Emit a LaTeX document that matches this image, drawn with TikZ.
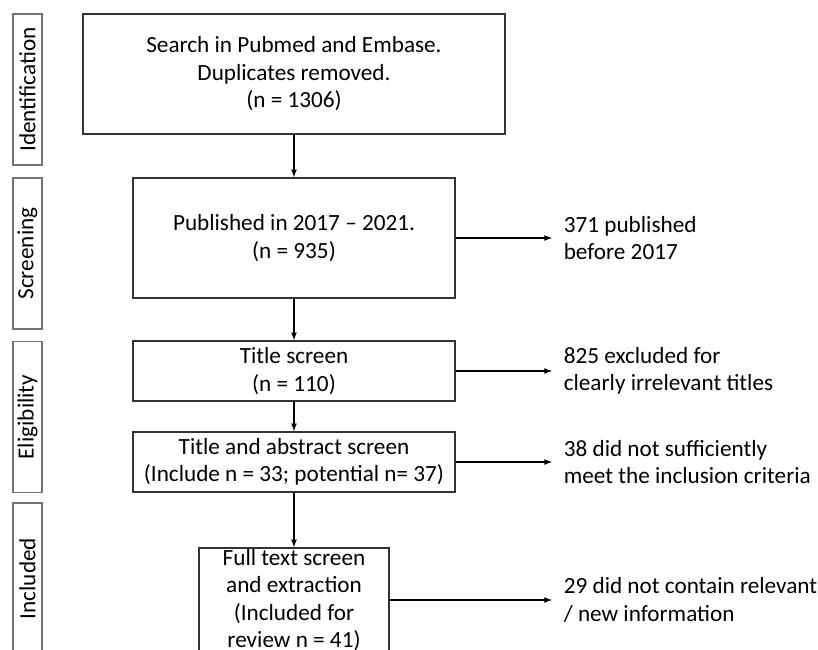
\documentclass[tikz,border=0pt]{standalone}
\usepackage{fontspec}
\setmainfont{Carlito}
\usetikzlibrary{arrows}

\begin{document}
\begin{tikzpicture}[x=1pt,y=-1pt,line width=1.6pt]
      \useasboundingbox (0,0) rectangle (818,649);
      \clip (0,0) rectangle (818,649);

      \tikzstyle{box}=[rectangle,draw=black!80,align=center,inner sep=0pt,
        font=\fontsize{23.2}{27.5}\selectfont]
      \tikzstyle{phase}=[box,draw=black!55,rotate=90,
        minimum width=151pt,minimum height=29pt]

      \node[phase] (id)  at (27.5,89.5)  {Identification};
      \node[phase] (scr) at (27.5,253.5) {Screening};
      \node[phase] (elg) at (27.5,417)   {Eligibility};
      \node[phase] (inc) at (27.5,578.5) {Included};

      \node[box][minimum width=422pt,minimum height=120pt] (search) at (294,74)
        {Search in Pubmed and Embase.\\Duplicates removed.\\(n = 1306)};
      \node[box][minimum width=322pt,minimum height=120pt] (pub) at (294,238)
        {Published in 2017 -- 2021.\\(n = 935)};
      \node[box][minimum width=322pt,minimum height=60pt] (title) at (294,371)
        {Title screen\\(n = 110)};
      \node[box][minimum width=322pt,minimum height=60pt] (abs) at (294,462)
        {Title and abstract screen\\(Include n = 33; potential n= 37)};
      \node[box][minimum width=190pt,minimum height=104pt] (full) at (294,600)
        {Full text screen\\and extraction\\(Included for\\review n = 41)};

      \tikzstyle{excl}=[anchor=west,align=left,inner xsep=11pt,inner ysep=0pt,
        font=\fontsize{23.2}{27.5}\selectfont]
      \tikzstyle{ar}=[->,>=latex]

      \node[excl] (xpub)   at (552,238) {371 published\\before 2017};
      \node[excl] (xtitle) at (552,371) {825 excluded for\\clearly irrelevant titles};
      \node[excl] (xabs)   at (552,462) {38 did not sufficiently\\meet the inclusion criteria};
      \node[excl] (xfull)  at (552,600) {29 did not contain relevant\\/ new information};

      \draw[ar] (search) -- (pub);
      \draw[ar] (pub) -- (title);
      \draw[ar] (title) -- (abs);
      \draw[ar] (abs) -- (full);

      \draw[ar] (pub.east) -- (xpub.west);
      \draw[ar] (title.east) -- (xtitle.west);
      \draw[ar] (abs.east) -- (xabs.west);
      \draw[ar] (full.east) -- (xfull.west);
    \end{tikzpicture}
\end{document}
